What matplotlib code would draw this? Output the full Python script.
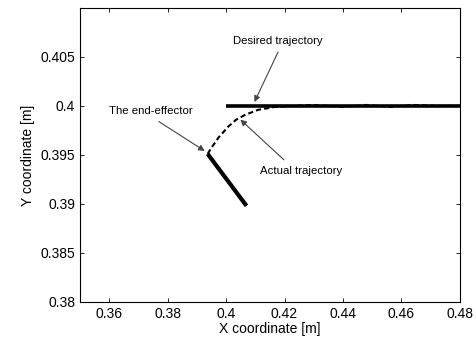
import matplotlib
matplotlib.use('Agg')
import matplotlib.pyplot as plt

plt.rcParams['font.family'] = ['Liberation Sans', 'DejaVu Sans']

# desired trajectory (straight line at y = 0.4)
desired_x = [0.400, 0.480]
desired_y = [0.400, 0.400]

# actual trajectory
actual_x = [0.3937, 0.3947, 0.3975, 0.4008, 0.4035, 0.4066, 0.4110, 0.4168,
            0.4230, 0.4300, 0.4400, 0.4480, 0.4560, 0.4640, 0.4720, 0.4800]
actual_y = [0.3951, 0.3956, 0.3968, 0.3979, 0.3986, 0.3991, 0.3996, 0.3999,
            0.4000, 0.4001, 0.3999, 0.4001, 0.3999, 0.4001, 0.4000, 0.4000]

# end-effector link
link_x = [0.3937, 0.4070]
link_y = [0.3951, 0.3898]

xticks = [0.36, 0.38, 0.40, 0.42, 0.44, 0.46, 0.48]
xtick_labels = ['0.36', '0.38', '0.4', '0.42', '0.44', '0.46', '0.48']
yticks = [0.380, 0.385, 0.390, 0.395, 0.400, 0.405]
ytick_labels = ['0.38', '0.385', '0.39', '0.395', '0.4', '0.405']

fig = plt.figure(figsize=(4.76, 3.45), dpi=100)
ax = fig.add_axes([0.168, 0.125, 0.798, 0.852])

ax.plot(desired_x, desired_y, color='black', linewidth=2.6, solid_capstyle='butt')
ax.plot(actual_x, actual_y, color='black', linewidth=1.5, linestyle=(0, (2.5, 1.5)))
ax.plot(link_x, link_y, color='black', linewidth=3.0, solid_capstyle='butt')

arrow = dict(arrowstyle='-|>', color='#444444', lw=0.8, mutation_scale=9,
             shrinkA=0, shrinkB=0)
ax.text(0.4178, 0.4066, 'Desired trajectory', fontsize=8.2, ha='center', va='center')
ax.annotate('', xy=(0.4097, 0.4004), xytext=(0.4178, 0.4055), arrowprops=arrow)
ax.text(0.3744, 0.3995, 'The end-effector', fontsize=8.2, ha='center', va='center')
ax.annotate('', xy=(0.3927, 0.3954), xytext=(0.3770, 0.3984), arrowprops=arrow)
ax.text(0.4256, 0.3934, 'Actual trajectory', fontsize=8.2, ha='center', va='center')
ax.annotate('', xy=(0.4049, 0.3986), xytext=(0.4198, 0.3945), arrowprops=arrow)

ax.set_xlim(0.35, 0.48)
ax.set_ylim(0.38, 0.41)
ax.set_xticks(xticks)
ax.set_xticklabels(xtick_labels)
ax.set_yticks(yticks)
ax.set_yticklabels(ytick_labels)
ax.tick_params(direction='in', length=3, width=0.6, top=True, right=True,
               labelsize=10, colors='black')
for s in ax.spines.values():
    s.set_linewidth(0.8)

ax.set_xlabel('X coordinate [m]', fontsize=10, labelpad=1)
ax.set_ylabel('Y coordinate [m]', fontsize=10, labelpad=4)

fig.savefig('out.png', dpi=100)
